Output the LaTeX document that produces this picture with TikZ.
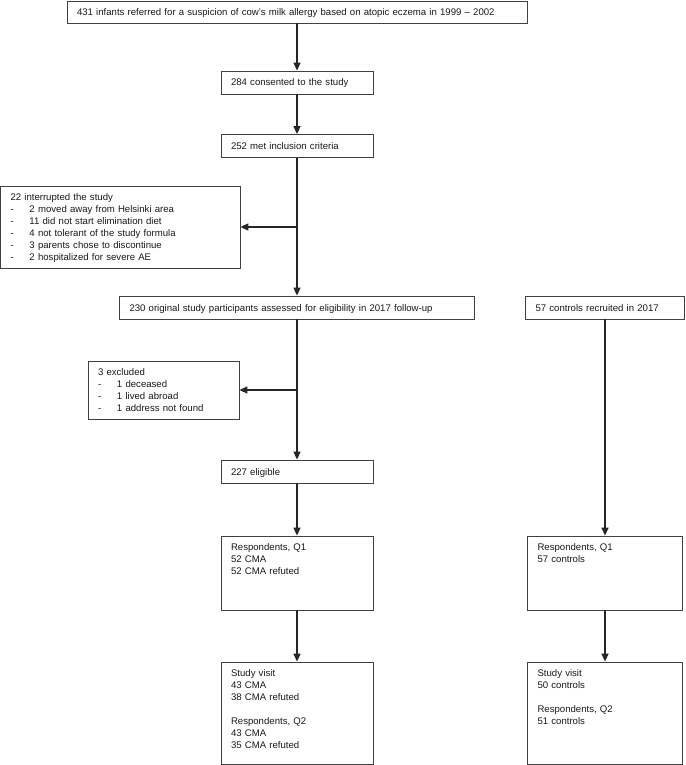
\documentclass[tikz,border=0pt]{standalone}
\usepackage{fontspec}
\setmainfont{Liberation Sans}
\usepackage{tikz}
\usetikzlibrary{positioning,calc,arrows.meta}

\newcommand{\dashitem}[1]{\makebox[19pt][l]{-}#1}

\begin{document}
\begin{tikzpicture}[x=1pt, y=-1pt, ->, >={Triangle[length=8pt, width=7pt]}, every edge/.append style={line width=1.3pt, draw=black!85}, box/.style = {rectangle, draw=black!75, line width=0.8pt, fill=white, text=black!90, inner xsep=10pt, inner ysep=4pt, align=left, font=\fontsize{9.6}{12}\selectfont}, onebox/.style = {box, minimum height=23pt, text height=8pt, text depth=1pt}, tallbox/.style = {box, text height=10.5pt, text depth=#1}]

\useasboundingbox (0,0) rectangle (685,765);

% left column
\node[onebox, text width=440pt, minimum height=22pt] (b1) at (297,12) {431 infants referred for a suspicion of cow's milk allergy based on atopic eczema in 1999 -- 2002};
\node[onebox, text width=132pt] (b2) at (297,82.5) {284 consented to the study};
\node[onebox, text width=132pt] (b3) at (297,146) {252 met inclusion criteria};
\node[tallbox=63.5pt, text width=219.5pt] (b4) at (120.25,227) {22 interrupted the study\\
\dashitem{2 moved away from Helsinki area}\\
\dashitem{11 did not start elimination diet}\\
\dashitem{4 not tolerant of the study formula}\\
\dashitem{3 parents chose to discontinue}\\
\dashitem{2 hospitalized for severe AE}};
\node[onebox, text width=335pt] (b5) at (297,307.5) {230 original study participants assessed for eligibility in 2017 follow-up};
\node[tallbox=39.5pt, text width=131pt] (b7) at (163.5,390) {3 excluded\\
\dashitem{1 deceased}\\
\dashitem{1 lived abroad}\\
\dashitem{1 address not found}};
\node[onebox, text width=132pt] (b8) at (297,471.5) {227 eligible};
\node[tallbox=55.5pt, text width=132pt] (b9) at (297,573) {Respondents, Q1\\52 CMA\\52 CMA refuted};
\node[tallbox=83.5pt, text width=132pt] (b11) at (297,713) {Study visit\\43 CMA\\38 CMA refuted\\[12pt]Respondents, Q2\\43 CMA\\35 CMA refuted};

% controls
\node[onebox, text width=139pt] (b6) at (605,307.5) {57 controls recruited in 2017};
\node[tallbox=55.5pt, text width=135pt] (b10) at (605,573) {Respondents, Q1\\57 controls};
\node[tallbox=83.5pt, text width=135pt] (b12) at (605,713) {Study visit\\50 controls\\[12pt]Respondents, Q2\\51 controls};

\coordinate (split1) at (b3 |- b4.east);
\coordinate (split2) at (b5 |- b7.east);

\path
 (b1) edge (b2)
 (b2) edge (b3)
 (b3) edge (b5)
 (split1) edge (b4)
 (b5) edge (b8)
 (split2) edge (b7)
 (b8) edge (b9)
 (b9) edge (b11)
 (b6) edge (b10)
 (b10) edge (b12);
\end{tikzpicture}
\end{document}
